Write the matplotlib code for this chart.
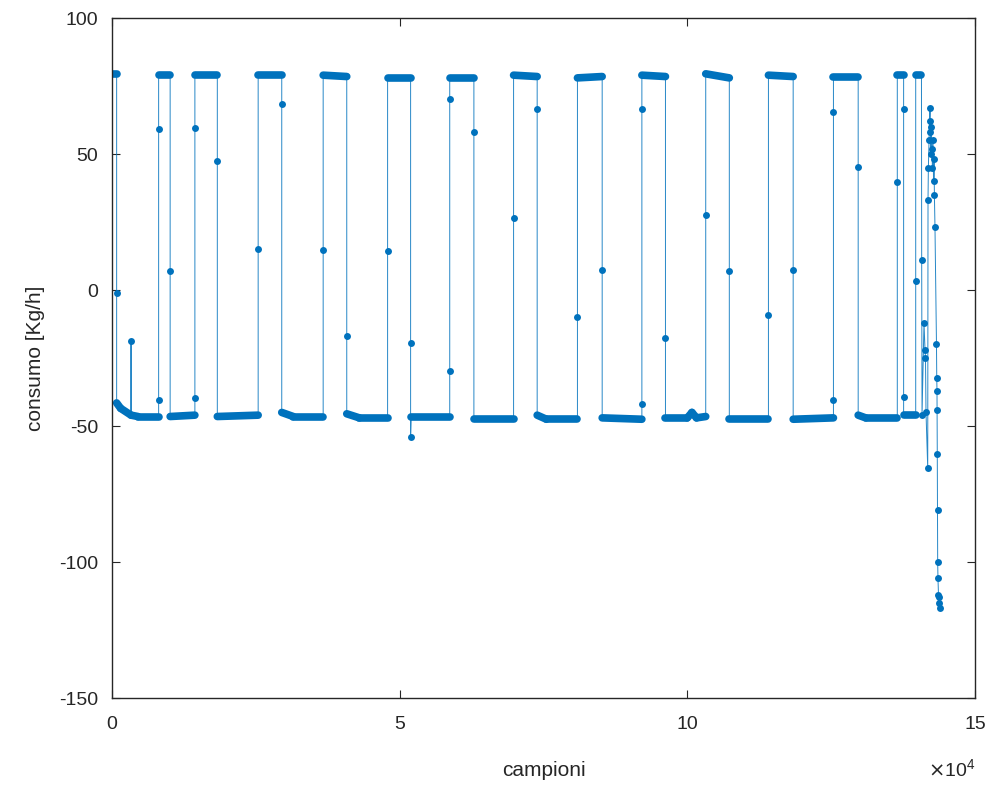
import numpy as np
import matplotlib
matplotlib.use("Agg")
import matplotlib.pyplot as plt
from matplotlib.collections import LineCollection

plt.rcParams['font.family'] = ['Liberation Sans', 'DejaVu Sans']
plt.rcParams['axes.unicode_minus'] = False

# campioni in unita' di 1e4, consumo in Kg/h
campioni = [
    0.00, 0.08, 0.08, 0.08, 0.15, 0.33, 0.33, 0.33, 0.45, 0.81,
    0.81, 0.81, 0.81, 1.01, 1.01, 1.01, 1.44, 1.44, 1.44, 1.44,
    1.83, 1.83, 1.83, 2.54, 2.54, 2.54, 2.95, 2.95, 2.95, 3.15,
    3.67, 3.67, 3.67, 4.08, 4.08, 4.08, 4.30, 4.79, 4.79, 4.79,
    5.19, 5.19, 5.19, 5.20, 5.87, 5.87, 5.87, 5.87, 6.29, 6.29,
    6.29, 6.98, 6.98, 6.98, 7.39, 7.39, 7.39, 7.55, 8.09, 8.09,
    8.09, 8.52, 8.52, 8.52, 9.21, 9.21, 9.21, 9.21, 9.62, 9.62,
    9.62, 10.00, 10.08, 10.16, 10.32, 10.32, 10.32, 10.73, 10.73, 10.73,
    11.41, 11.41, 11.41, 11.84, 11.84, 11.84, 12.54, 12.54, 12.54, 12.54,
    12.97, 12.97, 12.97, 13.10, 13.65, 13.65, 13.65, 13.76, 13.76, 13.76,
    13.76, 13.97, 13.97, 13.97, 14.07,
    # coda finale
    14.074, 14.080, 14.114, 14.132, 14.140, 14.149, 14.179, 14.184, 14.190, 14.201,
    14.210, 14.219, 14.225, 14.236, 14.240, 14.253, 14.260, 14.271, 14.280, 14.288,
    14.295, 14.305, 14.331, 14.336, 14.340, 14.342, 14.345, 14.349, 14.352, 14.357,
    14.366, 14.375, 14.383, 14.392,
]
consumo = [
    79.5, 79.5, -1.0, -41.5, -43.5, -46.0, -18.6, -46.0, -46.5, -46.5,
    -40.4, 59.1, 79.0, 79.0, 6.9, -46.5, -46.0, -39.6, 59.6, 79.0,
    79.0, 47.5, -46.5, -46.0, 15.2, 79.0, 79.0, 68.3, -45.0, -46.5,
    -46.5, 14.9, 79.0, 78.5, -16.8, -45.5, -47.0, -47.0, 14.3, 78.0,
    78.0, -19.5, -54.0, -46.5, -46.5, -29.7, 70.2, 78.0, 78.0, 58.0,
    -47.5, -47.5, 26.6, 79.0, 78.5, 66.6, -46.0, -47.5, -47.5, -9.8,
    78.0, 78.5, 7.3, -47.0, -47.5, -41.8, 66.5, 79.0, 78.5, -17.8,
    -47.0, -47.0, -45.0, -47.0, -46.5, 27.7, 79.5, 78.0, 6.9, -47.5,
    -47.5, -9.0, 79.0, 78.5, 7.4, -47.5, -47.0, -40.4, 65.6, 78.5,
    78.5, 45.1, -46.0, -47.0, -47.0, 39.9, 79.0, 79.0, 66.5, -39.5,
    -46.0, -46.0, 3.2, 79.0, 79.0,
    10.9, -46.0, -12.0, -22.0, -25.0, -45.0, -65.4, 33.0, 45.0, 55.0,
    62.0, 67.0, 58.0, 50.0, 60.0, 52.0, 45.0, 55.0, 40.0, 48.0,
    35.0, 23.2, -19.7, -32.5, -37.0, -44.0, -60.4, -80.7, -100.0, -106.0,
    -112.0, -115.0, -113.0, -117.0,
]

blu = '#0072BD'
grigio = '#262626'

x = np.array(campioni)
y = np.array(consumo)

fig = plt.figure(figsize=(9.88, 7.85), dpi=100)
ax = fig.add_axes([0.1134, 0.1108, 0.8734, 0.8662])

# tratti orizzontali = regime stazionario, disegnati come banda spessa
dx = np.diff(x)
oriz = dx > 0.045
segs = [[(x[i], y[i]), (x[i + 1], y[i + 1])] for i in range(len(dx)) if oriz[i]]
ax.add_collection(LineCollection(segs, colors=blu, linewidths=5.5, capstyle='round'))

# punti isolati sui fronti
prev_o = np.r_[False, oriz]
next_o = np.r_[oriz, False]
punti = ~(prev_o | next_o)

ax.plot(x, y, '-', color=blu, lw=0.7, alpha=0.85)
ax.plot(x[punti], y[punti], 'o', color=blu, ms=5, mew=0)

ax.set_xlim(0, 15)
ax.set_ylim(-150, 100)
ax.set_xticks([0, 5, 10, 15])
ax.set_yticks([-150, -100, -50, 0, 50, 100])
ax.tick_params(direction='in', length=6, width=0.8, top=True, right=True,
               colors=grigio, labelsize=14)
ax.tick_params(axis='x', pad=13)
ax.tick_params(axis='y', pad=10)
for s in ax.spines.values():
    s.set_color(grigio)
    s.set_linewidth(1.0)

ax.set_xlabel('campioni', fontsize=15, color=grigio, labelpad=20)
ax.set_ylabel('consumo [Kg/h]', fontsize=15, color=grigio, labelpad=10)
ax.text(1.0, -0.088, r'$\times\mathregular{10^4}$', transform=ax.transAxes,
        ha='right', va='top', fontsize=14, color=grigio)

fig.savefig('out.png', dpi=100)
